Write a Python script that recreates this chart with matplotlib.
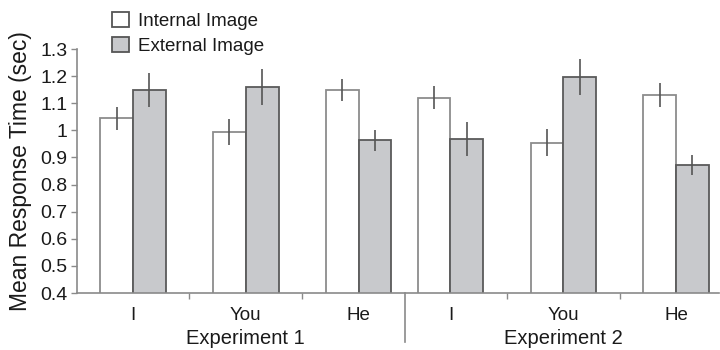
import numpy as np
import matplotlib.pyplot as plt
from matplotlib.patches import Patch

plt.rcParams['font.family'] = ['Liberation Sans', 'DejaVu Sans']

# mean response times (sec) and error bar half-widths
pronouns = ['I', 'You', 'He', 'I', 'You', 'He']
experiments = ['Experiment 1', 'Experiment 2']
internal = [1.044, 0.995, 1.149, 1.120, 0.954, 1.130]
internal_err = [0.043, 0.048, 0.042, 0.043, 0.050, 0.044]
external = [1.149, 1.161, 0.963, 0.968, 1.196, 0.872]
external_err = [0.062, 0.067, 0.039, 0.061, 0.067, 0.036]

# group centres: the two experiments are laid side by side with a narrower gap
pos = np.concatenate([np.arange(3), 2.814 + np.arange(3)])
w = 0.29

fig = plt.figure(figsize=(7.2, 3.5), dpi=100)
ax = fig.add_axes([77 / 720, 1 - 293 / 350, 1 - 77 / 720 - 0.002, (293 - 49) / 350])

axis_col = '#8a8a8a'
ax.bar(pos - w / 2, internal, w, color='white', edgecolor='#8c8c8c',
       linewidth=1.3, zorder=2)
ax.bar(pos + w / 2, external, w, color='#c8c9cc', edgecolor='#5a5a5a',
       linewidth=1.3, zorder=2)
ax.errorbar(pos - w / 2, internal, yerr=internal_err, fmt='none',
            ecolor='#555555', elinewidth=1.2, capsize=0, zorder=3)
ax.errorbar(pos + w / 2, external, yerr=external_err, fmt='none',
            ecolor='#555555', elinewidth=1.2, capsize=0, zorder=3)

ax.set_ylim(0.4, 1.3)
ax.set_xlim(pos[0] - 0.496, pos[0] + 5.19)
ax.set_yticks(np.arange(0.4, 1.31, 0.1))
ax.set_yticklabels(['0.4', '0.5', '0.6', '0.7', '0.8', '0.9', '1', '1.1', '1.2', '1.3'])

ax.set_xticks(pos)
ax.set_xticklabels(pronouns)
ax.tick_params(axis='x', length=0, pad=10, labelsize=13.5, labelcolor='#1a1a1a')
ax.tick_params(axis='y', length=4, width=1, color=axis_col, labelsize=14,
               labelcolor='#1a1a1a', pad=3)
mids = [(pos[0] + pos[1]) / 2, (pos[1] + pos[2]) / 2,
        (pos[3] + pos[4]) / 2, (pos[4] + pos[5]) / 2]
ax.set_xticks(mids, minor=True)
ax.tick_params(axis='x', which='minor', length=4, width=1, color=axis_col)

for s in ['top', 'right']:
    ax.spines[s].set_visible(False)
for s in ['left', 'bottom']:
    ax.spines[s].set_color(axis_col)
    ax.spines[s].set_linewidth(1.2)

# separator between the two experiments
sep = (pos[2] + pos[3]) / 2
ax.plot([sep, sep], [0, -49 / 244], transform=ax.get_xaxis_transform(),
        color=axis_col, lw=1.2, clip_on=False)

for i, name in enumerate(experiments):
    ax.text(pos[3 * i + 1], -45 / 244, name, transform=ax.get_xaxis_transform(),
            ha='center', va='center', fontsize=14.5, color='#1a1a1a')

ax.set_ylabel('Mean Response Time (sec)', fontsize=16.5, color='#1a1a1a', labelpad=6)

handles = [Patch(facecolor='white', edgecolor='#555555', linewidth=1.3),
           Patch(facecolor='#c8c9cc', edgecolor='#555555', linewidth=1.3)]
fig.legend(handles, ['Internal Image', 'External Image'], loc='upper left',
           bbox_to_anchor=(95 / 720, 1 + 5 / 350), frameon=False, fontsize=13.5,
           handlelength=0.9, handleheight=0.9, handletextpad=0.5, labelspacing=0.35,
           labelcolor='#1a1a1a')

fig.savefig('out.png', dpi=100)
